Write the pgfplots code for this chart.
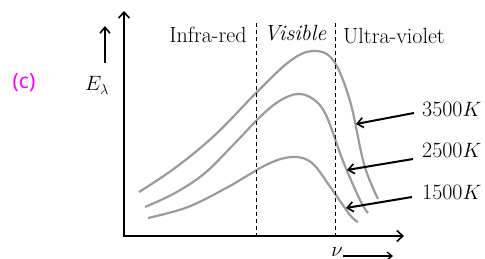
\documentclass[border=0pt]{standalone}
\usepackage{pgfplots}
\pgfplotsset{compat=1.18}
\usetikzlibrary{arrows.meta}
\usepackage{fontspec}
\newfontfamily\cfont{Noto Sans}
\definecolor{curvegray}{RGB}{155,155,155}
\definecolor{mag}{RGB}{255,0,255}
\begin{document}
\begin{tikzpicture}
\begin{axis}[scale only axis, width=485pt, height=259pt,
  xmin=0, xmax=485, ymin=0, ymax=259, y dir=reverse,
  hide axis, clip=false]
% 3500 K
\addplot[curvegray, line width=2.2pt, smooth, tension=0.6] coordinates {
(139,192) (175,168) (215,135) (257,92) (290,61) (313,51) (333,60) (350,101) (364,164) (378,199)};
% 2500 K
\addplot[curvegray, line width=2.2pt, smooth, tension=0.6] coordinates {
(145,207) (175,193) (205,173) (235,143) (262,115) (281,100) (298,94) (313,99) (326,115) (343,161) (360,200) (368,213)};
% 1500 K
\addplot[curvegray, line width=2.2pt, smooth, tension=0.6] coordinates {
(148,218) (188,207) (228,187) (268,164) (293,157) (312,163) (331,188) (350,215) (358,222)};
% dashed region boundaries
\addplot[black, line width=1pt, dash pattern=on 4pt off 3pt] coordinates {(256,23) (256,236)};
\addplot[black, line width=1pt, dash pattern=on 4pt off 3pt] coordinates {(335,23) (335,236)};
% axes
\draw[line width=2pt, -{Straight Barb[length=6pt,width=11pt,line width=1.6pt]}] (axis cs:124,236) -- (axis cs:124,11);
\draw[line width=2pt, -{Straight Barb[length=6pt,width=11pt,line width=1.6pt]}] (axis cs:123,236) -- (axis cs:404,236);
% E arrow
\draw[line width=2pt, -{Straight Barb[length=6pt,width=10pt,line width=1.6pt]}] (axis cs:105,63) -- (axis cs:105,26);
% temperature arrows
\draw[line width=2pt, -{Straight Barb[length=6pt,width=10pt,line width=1.6pt]}] (axis cs:414,113) -- (axis cs:356,124);
\draw[line width=2pt, -{Straight Barb[length=6pt,width=10pt,line width=1.6pt]}] (axis cs:413,159) -- (axis cs:347,170);
\draw[line width=2pt, -{Straight Barb[length=6pt,width=10pt,line width=1.6pt]}] (axis cs:412,197) -- (axis cs:346,208);
% nu arrow
\draw[line width=1.5pt, -{Straight Barb[length=5pt,width=8pt,line width=1.3pt]}] (axis cs:343,256) -- (axis cs:393,256);
% labels
\node[anchor=base, font=\fontsize{22}{26}\selectfont, inner sep=0pt] at (axis cs:208,42.5) {Infra-red};
\node[anchor=base, font=\fontsize{22}{26}\selectfont\itshape, inner sep=0pt] at (axis cs:295,40.5) {Visible};
\node[anchor=base, font=\fontsize{22}{26}\selectfont, inner sep=0pt] at (axis cs:394,44) {Ultra-violet};
\node[anchor=base west, font=\fontsize{22}{26}\selectfont, inner sep=0pt] at (axis cs:422,117) {3500$K$};
\node[anchor=base west, font=\fontsize{22}{26}\selectfont, inner sep=0pt] at (axis cs:422,158) {2500$K$};
\node[anchor=base west, font=\fontsize{22}{26}\selectfont, inner sep=0pt] at (axis cs:422,200) {1500$K$};
\node[anchor=base, font=\fontsize{21}{26}\selectfont, inner sep=0pt] at (axis cs:97,91) {$E_\lambda$};
\node[anchor=base, font=\fontsize{21}{26}\selectfont, inner sep=0pt] at (axis cs:337,256) {$\nu$};
\node[anchor=center, font=\fontsize{21}{26}\selectfont\cfont, text=mag, inner sep=0pt] at (axis cs:24,83) {(c)};
\coordinate (bl) at (axis cs:0,259);
\coordinate (tr) at (axis cs:485,0);
\end{axis}
\pgfresetboundingbox
\path (bl) rectangle (tr);
\end{tikzpicture}
\end{document}
